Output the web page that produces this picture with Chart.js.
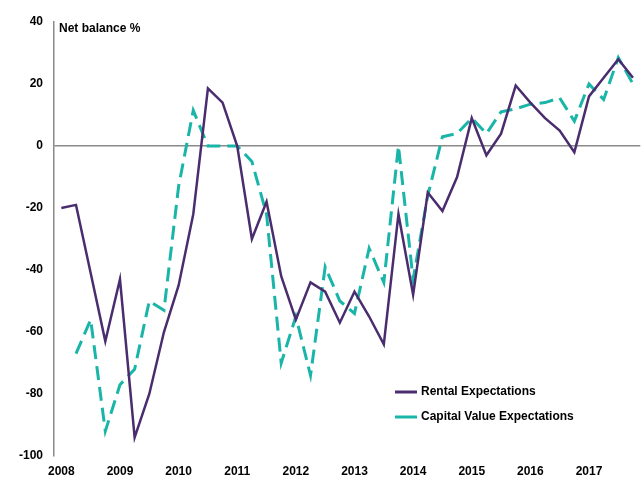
<!DOCTYPE html>
<html>
<head>
<meta charset="utf-8">
<script src="https://cdn.jsdelivr.net/npm/chart.js@4.4.0/dist/chart.umd.min.js"></script>
<style>
  html, body { margin: 0; padding: 0; background: #fff; }
  #wrap { width: 643px; height: 477px; position: relative; }
</style>
</head>
<body>
<div id="wrap"><canvas id="c" width="643" height="477"></canvas></div>
<script>
const years = ["2008","2009","2010","2011","2012","2013","2014","2015","2016","2017"];
const quarters = [];
years.forEach(y => { for (let q = 1; q <= 4; q++) quarters.push(y + " Q" + q); });

const rentalExpectations = [
  -20, -19, -41, -63, -43, -94, -80, -60,
  -45, -22, 18.6, 14, 0, -30, -18, -42,
  -56, -44, -47, -57, -47, -55, -64, -22,
  -48, -15, -21, -10, 9, -3, 4, 19.5,
  14, 9, 5, -2, 16, 22, 28, 22
];
const capitalValueExpectations = [
  null, -67, -56, -92, -77, -72, -50, -53,
  -13, 11.5, 0, 0, 0, -5, -22, -70,
  -55, -74, -39, -50, -54, -33, -44, 0,
  -43, -16, 3, 4, 9, 4, 11, 12,
  13.5, 14, 15.5, 8, 20, 15, 28.5, 20
];
const yTicks = { min: -100, max: 40, step: 20 };
const yTitle = "Net balance %";

const FONT = "'Liberation Sans', Arial, sans-serif";

const overlay = {
  id: 'overlay',
  afterDatasetsDraw(chart) {
    const ctx = chart.ctx;
    const area = chart.chartArea;
    ctx.save();
    ctx.fillStyle = '#000';
    ctx.font = "bold 12px " + FONT;
    ctx.textBaseline = 'middle';
    ctx.textAlign = 'left';
    ctx.fillText(yTitle, area.left + 5, area.top + 7);
    const items = chart.data.datasets;
    const lx = 395, ly = 392, gap = 25;
    items.forEach((ds, i) => {
      const y = ly + i * gap;
      ctx.beginPath();
      ctx.strokeStyle = ds.borderColor;
      ctx.lineWidth = 3;
      ctx.setLineDash([]);
      ctx.moveTo(lx, y);
      ctx.lineTo(lx + 22, y);
      ctx.stroke();
      ctx.fillStyle = '#000';
      ctx.fillText(ds.label, lx + 26, y);
    });
    ctx.restore();
  }
};

new Chart(document.getElementById('c'), {
  type: 'line',
  data: {
    labels: quarters,
    datasets: [
      {
        label: 'Rental Expectations',
        data: rentalExpectations,
        borderColor: '#4a2d6e',
        borderWidth: 2.5,
        pointRadius: 0,
        tension: 0,
        fill: false
      },
      {
        label: 'Capital Value Expectations',
        data: capitalValueExpectations,
        borderColor: '#19b5a8',
        borderWidth: 3,
        borderDash: [14, 7],
        pointRadius: 0,
        tension: 0,
        fill: false,
        spanGaps: false
      }
    ]
  },
  options: {
    responsive: false,
    animation: false,
    devicePixelRatio: 1,
    layout: { padding: { left: 8, right: 2, top: 22, bottom: -11 } },
    plugins: { legend: { display: false }, tooltip: { enabled: false }, title: { display: false } },
    scales: {
      x: {
        type: 'category',
        offset: true,
        grid: { display: false, drawTicks: false },
        border: { display: false },
        ticks: {
          autoSkip: false,
          maxRotation: 0,
          padding: 10,
          color: '#000',
          font: { family: FONT, size: 12, weight: 'bold', lineHeight: 1 },
          callback: function(v, i) { return i % 4 === 0 ? quarters[i].slice(0, 4) : ''; }
        }
      },
      y: {
        min: yTicks.min,
        max: yTicks.max,
        grid: {
          drawTicks: false,
          color: c => (c.tick && c.tick.value === 0) ? '#8a8a8a' : 'rgba(0,0,0,0)',
          lineWidth: 1.5
        },
        border: { display: true, color: '#8a8a8a', width: 1.5 },
        ticks: {
          stepSize: yTicks.step,
          padding: 11,
          color: '#000',
          font: { family: FONT, size: 12, weight: 'bold' }
        }
      }
    }
  },
  plugins: [overlay]
});
</script>
</body>
</html>
